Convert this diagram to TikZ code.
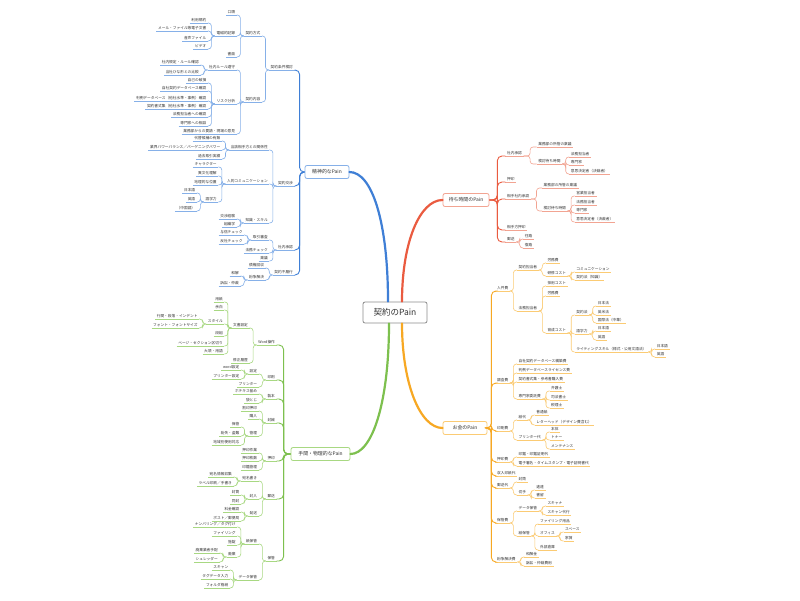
\documentclass[tikz,border=0pt]{standalone}
\usepackage{fontspec}
\setmainfont{Noto Sans CJK JP}
\usetikzlibrary{calc}
\definecolor{bluem}{HTML}{3F7FD6}
\definecolor{bluel}{HTML}{86B0E8}
\definecolor{greenm}{HTML}{7DC04E}
\definecolor{greenl}{HTML}{A8D882}
\definecolor{redm}{HTML}{EA5B40}
\definecolor{redl}{HTML}{F2A492}
\definecolor{orangem}{HTML}{F7A823}
\definecolor{orangel}{HTML}{FBCB74}
\definecolor{txt}{HTML}{333333}
\colorlet{brm}{bluem}\colorlet{brl}{bluel}
\tikzset{
  lab/.style={font=\fontsize{3.7}{4}\selectfont, text=txt, inner xsep=1.5pt, inner ysep=0.9pt},
  ul/.style={draw=brl, line width=0.6pt},
  cn/.style={draw=brl, line width=0.6pt, rounded corners=3pt},
  cnA/.style={draw=brm, line width=0.9pt, rounded corners=4.5pt},
  topic/.style={draw=brl, fill=white, rounded corners=2pt, line width=0.8pt, font=\fontsize{4.9}{5}\selectfont, text=txt, inner xsep=4pt, inner ysep=2pt, minimum width=44pt, minimum height=13pt},
  mainline/.style={line width=2.2pt, line cap=round},
}
\newcommand\mkL[6]{%
  \pgfmathsetmacro\yy{#4+3}%
  \path (#2) ++(-#1,0) coordinate (tmpc);
  \node[lab, anchor=south east] (#3) at (tmpc |- 0,\yy) {#5};
  \draw[ul] (#3.south west) -- (#3.south east);
  \draw[#6] (#2) -- ++({-#1/2},0) |- (#3.south east);
}
\newcommand\mkR[6]{%
  \pgfmathsetmacro\yy{#4+3}%
  \path (#2) ++(#1,0) coordinate (tmpc);
  \node[lab, anchor=south west] (#3) at (tmpc |- 0,\yy) {#5};
  \draw[ul] (#3.south west) -- (#3.south east);
  \draw[#6] (#2) -- ++({#1/2},0) |- (#3.south west);
}
\newcommand\NL[5][7]{\mkL{#1}{#2}{#3}{#4}{#5}{cn}}
\newcommand\NLA[5][10]{\mkL{#1}{#2}{#3}{#4}{#5}{cnA}}
\newcommand\NR[5][7]{\mkR{#1}{#2}{#3}{#4}{#5}{cn}}
\newcommand\NRA[5][10]{\mkR{#1}{#2}{#3}{#4}{#5}{cnA}}
\begin{document}
\begin{tikzpicture}[x=1pt,y=-1pt]
\useasboundingbox[fill=white] (0,0) rectangle (800,600);
% centre and main topics
\node[draw=black!45, fill=white, rounded corners=2pt, line width=0.8pt, font=\fontsize{8.5}{9}\selectfont, text=txt, minimum width=64pt, minimum height=21pt] (c) at (395,312.5) {契約のPain};
\colorlet{brl}{bluel}
\node[topic] (b) at (327,172) {精神的なPain};
\colorlet{brl}{greenl}
\node[topic, minimum width=59pt] (g) at (320.5,454) {手間・物理的なPain};
\colorlet{brl}{redl}
\node[topic, minimum width=46pt] (r) at (466,200) {待ち時間のPain};
\colorlet{brl}{orangel}
\node[topic] (o) at (465,428) {お金のPain};
\draw[mainline, bluem] ($(c.north)+(-7,0)$) .. controls ($(c.north)+(-7,-80)$) and (372,172) .. (b.east);
\draw[mainline, redm] ($(c.north)+(7,0)$) .. controls ($(c.north)+(7,-60)$) and (420,200) .. (r.west);
\draw[mainline, greenm] ($(c.south)+(-6,0)$) .. controls ($(c.south)+(-6,80)$) and (372,454) .. (g.east);
\draw[mainline, orangem] ($(c.south)+(7,0)$) .. controls ($(c.south)+(7,60)$) and (420,428) .. (o.west);

% ================= BLUE =================
\colorlet{brm}{bluem}\colorlet{brl}{bluel}
\NLA{b.west}{a}{67}{契約条件検討}
\NLA{b.west}{bB}{183}{契約交渉}
\NLA{b.west}{bC}{247}{社内承認}
\NLA{b.west}{bD}{272}{契約不履行}
\NL{a.south west}{a1}{33}{契約方式}
\NL{a.south west}{a2}{99}{契約内容}
\NL{a1.south west}{a11}{12}{口頭}
\NL{a1.south west}{a12}{33}{電磁的記録}
\NL{a1.south west}{a13}{54}{書面}
\NL{a12.south west}{a121}{20}{利用規約}
\NL{a12.south west}{a122}{28}{メール・ファイル等電子文書}
\NL{a12.south west}{a123}{38}{音声ファイル}
\NL{a12.south west}{a124}{46}{ビデオ}
\NL{a2.south west}{a21}{67}{社内ルール遵守}
\NL{a2.south west}{a22}{101}{リスク分析}
\NL{a2.south west}{a23}{131}{業務部からの要請・現場の意見}
\NL{a21.south west}{a211}{62}{社内規定・ルール確認}
\NL{a21.south west}{a212}{72}{当社ひな形との比較}
\NL{a22.south west}{a221}{80}{自己の破損}
\NL{a22.south west}{a222}{88}{自社契約データベース確認}
\NL{a22.south west}{a223}{98}{判例データベース（他社水準・事例）確認}
\NL{a22.south west}{a224}{106}{契約書式集（他社水準・事例）確認}
\NL{a22.south west}{a225}{114}{法務担当者への確認}
\NL{a22.south west}{a226}{123}{専門家への相談}
\NL{bB.south west}{b1}{147}{当該相手方との関係性}
\NL{bB.south west}{b2}{181}{人的コミュニケーション}
\NL{bB.south west}{b3}{220}{知識・スキル}
\NL{b1.south west}{b11}{138}{代替候補の有無}
\NL{b1.south west}{b12}{147}{業界パワーバランス／バーゲニングパワー}
\NL{b1.south west}{b13}{156}{過去取引実績}
\NL{b2.south west}{b21}{164}{キャラクター}
\NL{b2.south west}{b22}{173}{異文化理解}
\NL{b2.south west}{b23}{182}{地理的な位置}
\NL{b2.south west}{b24}{199}{語学力}
\NL{b24.south west}{b241}{190}{日本語}
\NL{b24.south west}{b242}{199}{英語}
\NL{b24.south west}{b243}{208}{（中国語）}
\NL{b3.south west}{b31}{216}{交渉経験}
\NL{b3.south west}{b32}{224}{組織学}
\NL{bC.south west}{c1}{237}{取引審査}
\NL{bC.south west}{c2}{250}{法務チェック}
\NL{bC.south west}{c3}{258}{稟議}
\NL{c1.south west}{c11}{232}{与信チェック}
\NL{c1.south west}{c12}{241}{反社チェック}
\NL{bD.south west}{d1}{265}{債権回収}
\NL{bD.south west}{d2}{277}{紛争解決}
\NL{d2.south west}{d21}{273}{和解}
\NL{d2.south west}{d22}{283}{訴訟・仲裁}

% ================= GREEN =================
\colorlet{brm}{greenm}\colorlet{brl}{greenl}
\NLA[14]{g.west}{w}{342}{Word操作}
\NLA[14]{g.west}{p}{377}{印刷}
\NLA[14]{g.west}{s}{396}{製本}
\NLA[14]{g.west}{f}{420}{封緘}
\NLA[14]{g.west}{h}{458}{押印}
\NLA[14]{g.west}{m}{496}{郵送}
\NLA[14]{g.west}{k}{558}{保管}
\NL{w.south west}{w1}{325}{文書設定}
\NL{w.south west}{w2}{360}{修正履歴}
\NL{w1.south west}{w11}{299}{用紙}
\NL{w1.south west}{w12}{307}{余白}
\NL{w1.south west}{w13}{321}{スタイル}
\NL{w1.south west}{w14}{333}{段組}
\NL{w1.south west}{w15}{343}{ページ・セクション区切り}
\NL{w1.south west}{w16}{351}{大項・用語}
\NL{w13.south west}{w131}{316}{行間・段落・インデント}
\NL{w13.south west}{w132}{325}{フォント・フォントサイズ}
\NL{p.south west}{p1}{371}{設定}
\NL{p.south west}{p2}{384}{プリンター}
\NL{p1.south west}{p11}{367}{word設定}
\NL{p1.south west}{p12}{376}{プリンター設定}
\NL{s.south west}{s1}{391}{ホチキス留め}
\NL{s.south west}{s2}{400}{袋とじ}
\NL{f.south west}{f1}{408}{割印押印}
\NL{f.south west}{f2}{416}{購入}
\NL{f.south west}{f3}{433}{管理}
\NL{f3.south west}{f31}{424}{保管}
\NL{f3.south west}{f32}{433}{紛失・盗難}
\NL{f3.south west}{f33}{442}{地域別使用対応}
\NL{h.south west}{h1}{450}{押印作業}
\NL{h.south west}{h2}{458}{押印枚数}
\NL{h.south west}{h3}{467}{印鑑管理}
\NL{m.south west}{m1}{478}{宛名書き}
\NL{m.south west}{m2}{496}{封入}
\NL{m.south west}{m3}{513}{発送}
\NL{m1.south west}{m11}{474}{宛名情報収集}
\NL{m1.south west}{m12}{483}{ラベル印刷／手書き}
\NL{m2.south west}{m21}{492}{封筒}
\NL{m2.south west}{m22}{501}{同封}
\NL{m3.south west}{m31}{509}{料金確認}
\NL{m3.south west}{m32}{518}{ポスト／郵便局}
\NL{k.south west}{k1}{541}{紙保管}
\NL{k.south west}{k2}{577}{データ保管}
\NL{k1.south west}{k11}{524}{ナンバリング／タグ付け}
\NL{k1.south west}{k12}{533}{ファイリング}
\NL{k1.south west}{k13}{542}{施錠}
\NL{k1.south west}{k14}{554}{廃棄}
\NL{k14.south west}{k141}{550}{廃棄業者手配}
\NL{k14.south west}{k142}{559}{シュレッダー}
\NL{k2.south west}{k21}{567}{スキャン}
\NL{k2.south west}{k22}{576}{タグデータ入力}
\NL{k2.south west}{k23}{585}{フォルダ格納}

% ================= RED =================
\colorlet{brm}{redm}\colorlet{brl}{redl}
\NRA[16]{r.east}{r1}{153}{社内承認}
\NRA[16]{r.east}{r2}{179}{押印}
\NRA[16]{r.east}{r3}{196}{相手社内承認}
\NRA[16]{r.east}{r4}{227}{相手方押印}
\NRA[16]{r.east}{r5}{239}{郵送}
\NR[13]{r1.south east}{r11}{144}{業務部の所管の稟議}
\NR[13]{r1.south east}{r12}{161}{検討待ち時間}
\NR{r12.south east}{r121}{154}{法務担当者}
\NR{r12.south east}{r122}{162}{専門家}
\NR{r12.south east}{r123}{171}{意思決定者（決裁者）}
\NR[11]{r3.south east}{r31}{185}{業務部の所管の稟議}
\NR[11]{r3.south east}{r32}{208}{検討待ち時間}
\NR{r32.south east}{r321}{193}{営業担当者}
\NR{r32.south east}{r322}{202}{法務担当者}
\NR{r32.south east}{r323}{210}{専門家}
\NR{r32.south east}{r324}{219}{意思決定者（決裁者）}
\NR{r5.south east}{r51}{236}{往路}
\NR{r5.south east}{r52}{245}{復路}

% ================= ORANGE =================
\colorlet{brm}{orangem}\colorlet{brl}{orangel}
\NRA[8]{o.east}{o1}{288}{人件費}
\NRA[8]{o.east}{o2}{380}{調査費}
\NRA[8]{o.east}{o3}{428}{印刷費}
\NRA[8]{o.east}{o4}{459}{押印費}
\NRA[8]{o.east}{o5}{473}{収入印紙代}
\NRA[8]{o.east}{o6}{485}{郵送代}
\NRA[8]{o.east}{o7}{520}{保管費}
\NRA[8]{o.east}{o8}{559}{紛争解決費}
\NR{o1.south east}{o11}{267}{契約担当者}
\NR{o1.south east}{o12}{308}{法務担当者}
\NR{o11.south east}{o111}{260}{労務費}
\NR{o11.south east}{o112}{273}{研修コスト}
\NR{o112.south east}{o1121}{269}{コミュニケーション}
\NR{o112.south east}{o1122}{277}{契約法（知識）}
\NR{o12.south east}{o121}{283}{採用コスト}
\NR{o12.south east}{o122}{293}{労務費}
\NR{o12.south east}{o123}{330}{育成コスト}
\NR{o123.south east}{o1231}{312}{契約法}
\NR{o123.south east}{o1232}{331}{語学力}
\NR{o123.south east}{o1233}{349}{ライティングスキル（様式・公用文語法）}
\NR{o1231.south east}{oa1}{303}{日本法}
\NR{o1231.south east}{oa2}{312}{英米法}
\NR{o1231.south east}{oa3}{320}{国際法（中華）}
\NR{o1232.south east}{ob1}{328}{日本語}
\NR{o1232.south east}{ob2}{337}{英語}
\NR{o1233.south east}{oc1}{346}{日本語}
\NR{o1233.south east}{oc2}{354}{英語}
\NR{o2.south east}{o21}{361}{自社契約データベース構築費}
\NR{o2.south east}{o22}{370}{判例データベースライセンス費}
\NR{o2.south east}{o23}{379}{契約書式集・参考書購入費}
\NR{o2.south east}{o24}{396}{専門家委託費}
\NR{o24.south east}{o241}{388}{弁護士}
\NR{o24.south east}{o242}{397}{司法書士}
\NR{o24.south east}{o243}{405}{税理士}
\NR{o3.south east}{o31}{417}{紙代}
\NR{o3.south east}{o32}{437}{プリンター代}
\NR{o31.south east}{o311}{412}{普通紙}
\NR{o31.south east}{o312}{422}{レターヘッド（デザイン費含む）}
\NR{o32.south east}{o321}{429}{本体}
\NR{o32.south east}{o322}{437}{トナー}
\NR{o32.south east}{o323}{446}{メンテナンス}
\NR{o4.south east}{o41}{454}{印鑑・印鑑証明代}
\NR{o4.south east}{o42}{463}{電子署名・タイムスタンプ・電子証明書代}
\NR{o6.south east}{o61}{479}{封筒}
\NR{o6.south east}{o62}{492}{切手}
\NR{o62.south east}{o621}{487}{速達}
\NR{o62.south east}{o622}{495}{書留}
\NR{o7.south east}{o71}{508}{データ保管}
\NR{o7.south east}{o72}{533}{紙保管}
\NR{o71.south east}{o711}{503}{スキャナ}
\NR{o71.south east}{o712}{512}{スキャン代行}
\NR{o72.south east}{o721}{521}{ファイリング用品}
\NR{o72.south east}{o722}{533}{オフィス}
\NR{o72.south east}{o723}{547}{外部倉庫}
\NR{o722.south east}{o7221}{529}{スペース}
\NR{o722.south east}{o7222}{538}{家賃}
\NR{o8.south east}{o81}{554}{和解金}
\NR{o8.south east}{o82}{563}{訴訟・仲裁費用}
\end{tikzpicture}
\end{document}
